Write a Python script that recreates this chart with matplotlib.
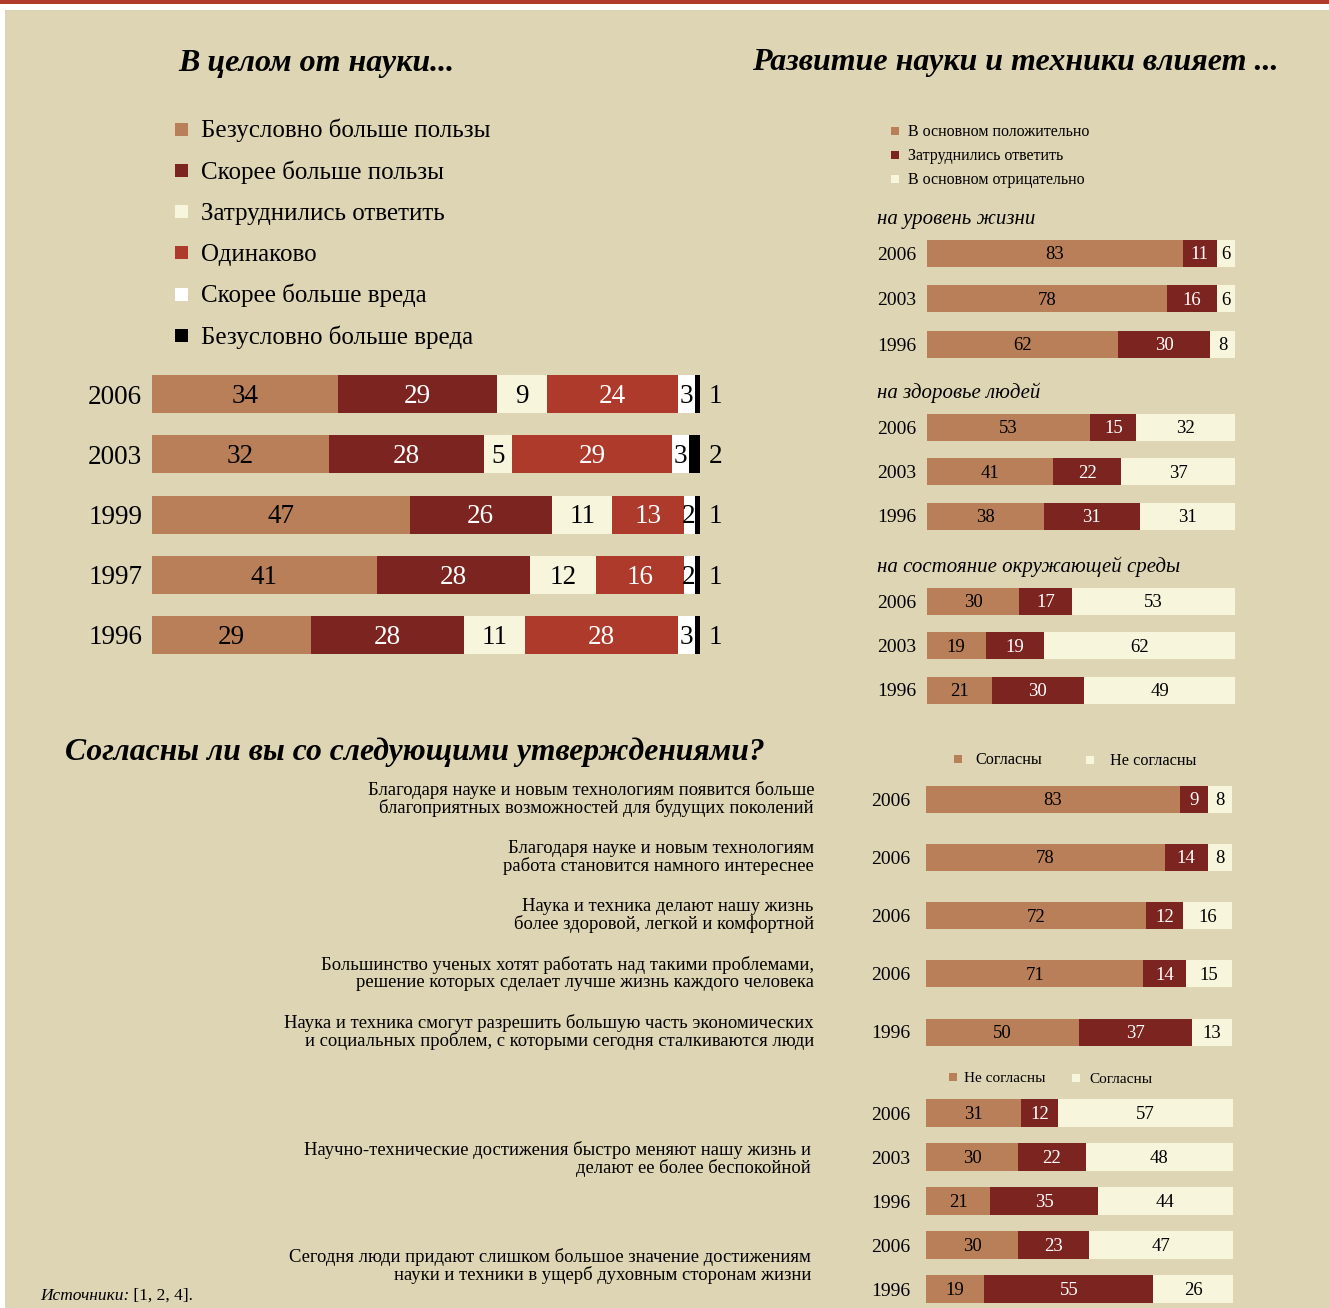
import matplotlib
matplotlib.use('Agg')
import matplotlib.pyplot as plt
from matplotlib.patches import Rectangle

# ---- data ----
benefit_title = 'В целом от науки...'
benefit_years = ['2006', '2003', '1999', '1997', '1996']
benefit_labels = ['Безусловно больше пользы', 'Скорее больше пользы', 'Затруднились ответить',
                  'Одинаково', 'Скорее больше вреда', 'Безусловно больше вреда']
benefit_vals = [[34, 29, 9, 24, 3, 1],
                [32, 28, 5, 29, 3, 2],
                [47, 26, 11, 13, 2, 1],
                [41, 28, 12, 16, 2, 1],
                [29, 28, 11, 28, 3, 1]]

impact_title = 'Развитие науки и техники влияет ...'
impact_labels = ['В основном положительно', 'Затруднились ответить', 'В основном отрицательно']
impact_years = ['2006', '2003', '1996']
life_vals = [[83, 11, 6], [78, 16, 6], [62, 30, 8]]
health_vals = [[53, 15, 32], [41, 22, 37], [38, 31, 31]]
env_vals = [[30, 17, 53], [19, 19, 62], [21, 30, 49]]
impact_groups = ['на уровень жизни', 'на здоровье людей', 'на состояние окружающей среды']

agree_title = 'Согласны ли вы со следующими утверждениями?'
agree_years = ['2006', '2006', '2006', '2006', '1996']
agree_vals = [[83, 9, 8], [78, 14, 8], [72, 12, 16], [71, 14, 15], [50, 37, 13]]
agree_statements = [
    ('Благодаря науке и новым технологиям появится больше', 'благоприятных возможностей для будущих поколений'),
    ('Благодаря науке и новым технологиям', 'работа становится намного интереснее'),
    ('Наука и техника делают нашу жизнь', 'более здоровой, легкой и комфортной'),
    ('Большинство ученых хотят работать над такими проблемами,', 'решение которых сделает лучше жизнь каждого человека'),
    ('Наука и техника смогут разрешить большую часть экономических', 'и социальных проблем, с которыми сегодня сталкиваются люди'),
]
disagree_years = ['2006', '2003', '1996', '2006', '1996']
disagree_vals = [[31, 12, 57], [30, 22, 48], [21, 35, 44], [30, 23, 47], [19, 55, 26]]
disagree_statements = [
    ('Научно-технические достижения быстро меняют нашу жизнь и', 'делают ее более беспокойной'),
    ('Сегодня люди придают слишком большое значение достижениям', 'науки и техники в ущерб духовным сторонам жизни'),
]

# ---- style ----
W, H = 1329, 1308
BG = '#ddd5b3'
C_LIGHT = '#b97f58'
C_DARK = '#7b2420'
C_CREAM = '#f7f6dc'
C_RED = '#ad3a2b'
C_WHITE = '#ffffff'
C_BLACK = '#000000'

plt.rcParams['font.family'] = ['Liberation Serif', 'DejaVu Serif']

fig = plt.figure(figsize=(W / 100, H / 100), dpi=100, facecolor='white')

bg = fig.add_axes([0, 0, 1, 1], zorder=0)
bg.set_xlim(0, W)
bg.set_ylim(H, 0)
bg.axis('off')
bg.add_patch(Rectangle((0, 0), W, 4, color='#b03a2b', lw=0))
bg.add_patch(Rectangle((5, 10), W - 5, H - 10, color=BG, lw=0))


def bar_axes(x0, x1, yc_first, yc_last, n):
    step = (yc_last - yc_first) / (n - 1)
    top = yc_first - step / 2
    bot = yc_last + step / 2
    ax = fig.add_axes([x0 / W, 1 - bot / H, (x1 - x0) / W, (bot - top) / H], zorder=2)
    ax.set_xlim(0, 100)
    ax.set_ylim(n - 0.5, -0.5)
    ax.patch.set_visible(False)
    for s in ax.spines.values():
        s.set_visible(False)
    ax.set_xticks([])
    return ax, step


def stacked(ax, years, vals, colors, tcolors, height, fs, yfs, pad, outside_last=False):
    ax.set_yticks(range(len(years)))
    ax.set_yticklabels(years, fontsize=yfs)
    ax.tick_params(axis='y', length=0, pad=pad)
    for i, row in enumerate(vals):
        total = sum(row)
        left = 0
        for j, v in enumerate(row):
            w = v * 100 / total   # rows drawn as full 100% bars
            ax.barh(i, w, left=left, height=height, color=colors[j], lw=0)
            if outside_last and j == len(row) - 1:
                x, c = 102.8, 'black'
            else:
                x, c = left + w / 2, tcolors[j]
            ax.annotate(str(v), xy=(x, i), xytext=(0, -0.33 * fs), textcoords='offset points',
                        ha='center', va='baseline', fontsize=fs, color=c, annotation_clip=False)
            left += w


def legend_item(x, yc, size, color, label, fs, gap):
    bg.add_patch(Rectangle((x, yc - size / 2), size, size, color=color, lw=0))
    bg.text(x + size + gap, yc + fs * 1.39 * 0.33, label, fontsize=fs,
            ha='left', va='baseline')


# ---- left block ----
bg.text(178, 71, benefit_title, fontsize=23, fontweight='bold', style='italic', va='baseline')
b_colors = [C_LIGHT, C_DARK, C_CREAM, C_RED, C_WHITE, C_BLACK]
b_tcolors = ['black', 'white', 'black', 'white', 'black', 'white']
for k, lab in enumerate(benefit_labels):
    legend_item(175, 129 + k * 41.3, 13, b_colors[k], lab, 18, 13)

ax, step = bar_axes(152, 700, 394, 635, 5)
stacked(ax, benefit_years, benefit_vals, b_colors, b_tcolors, 38 / step, 19.5, 19.5, 7,
        outside_last=True)

# ---- right block ----
bg.text(752, 70, impact_title, fontsize=23, fontweight='bold', style='italic', va='baseline')
i_colors = [C_LIGHT, C_DARK, C_CREAM]
i_tcolors = ['black', 'white', 'black']
for k, lab in enumerate(impact_labels):
    legend_item(891, 131 + k * 24, 8, i_colors[k], lab, 11.5, 9)

group_rows = [(253, 344), (427, 516), (601, 690)]
for g, vals in enumerate([life_vals, health_vals, env_vals]):
    y0, y1 = group_rows[g]
    bg.text(877, y0 - 29, impact_groups[g], fontsize=15, style='italic', va='baseline')
    ax, step = bar_axes(927, 1235, y0, y1, 3)
    stacked(ax, impact_years, vals, i_colors, i_tcolors, 27 / step, 13.5, 14, 8)

# ---- bottom block ----
bg.text(65, 760, agree_title, fontsize=22.8, fontweight='bold', style='italic', va='baseline')
legend_item(954, 759, 8, C_LIGHT, 'Согласны', 11.7, 13)
legend_item(1086, 760, 8, C_CREAM, 'Не согласны', 11.7, 16)
ax, step = bar_axes(926, 1232, 799, 1032, 5)
stacked(ax, agree_years, agree_vals, i_colors, i_tcolors, 27 / step, 13.5, 14, 11)
for k, (l1, l2) in enumerate(agree_statements):
    yc = 799 + k * step
    bg.text(814, yc, l1 + '\n' + l2, fontsize=13.4, ha='right', va='center',
            multialignment='right', linespacing=1.0)

legend_item(949, 1077, 8, C_LIGHT, 'Не согласны', 11, 7)
legend_item(1072, 1078, 8, C_CREAM, 'Согласны', 11, 9)
ax, step = bar_axes(926, 1233, 1113, 1289, 5)
stacked(ax, disagree_years, disagree_vals, i_colors, i_tcolors, 28 / step, 13.5, 14, 11)
for k, (l1, l2) in enumerate(disagree_statements):
    yc = 1159 if k == 0 else 1266
    bg.text(811, yc, l1 + '\n' + l2, fontsize=13.4, ha='right', va='center',
            multialignment='right', linespacing=1.0)

src = bg.text(40, 1300, 'Источники:', fontsize=12.5, style='italic', va='baseline')
bg.annotate(' [1, 2, 4].', xy=(1, 0), xycoords=src, fontsize=12.5, va='bottom', ha='left')

fig.savefig('out.png', dpi=100, facecolor=fig.get_facecolor())
